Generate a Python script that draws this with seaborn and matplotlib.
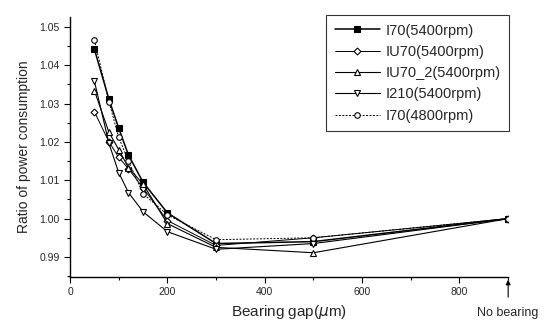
import numpy as np
import pandas as pd
import matplotlib
matplotlib.use("Agg")
import matplotlib.pyplot as plt
from matplotlib.ticker import MultipleLocator
import seaborn as sns

# bearing gap (um); 900 stands for "no bearing"
gap = [50, 80, 100, 120, 150, 200, 300, 500, 900]

i70_5400 = [1.0442, 1.0311, 1.0236, 1.0166, 1.0095, 1.0015, 0.9935, 0.9940, 1.0000]
iu70_5400 = [1.0279, 1.0200, 1.0160, 1.0130, 1.0080, 0.9995, 0.9930, 0.9950, 1.0000]
iu70_2_5400 = [1.0334, 1.0225, 1.0180, 1.0133, 1.0090, 0.9987, 0.9925, 0.9911, 1.0000]
i210_5400 = [1.0359, 1.0196, 1.0120, 1.0068, 1.0018, 0.9966, 0.9920, 0.9935, 1.0000]
i70_4800 = [1.0466, 1.0305, 1.0212, 1.0150, 1.0065, 1.0010, 0.9945, 0.9950, 1.0000]

series = [
    ("I70(5400rpm)", i70_5400, "s", "black", "-", 1.1),
    ("IU70(5400rpm)", iu70_5400, "D", "white", "-", 0.7),
    ("IU70_2(5400rpm)", iu70_2_5400, "^", "white", "-", 0.8),
    ("I210(5400rpm)", i210_5400, "v", "white", "-", 0.8),
    ("I70(4800rpm)", i70_4800, "o", "white", (0, (2, 1.5)), 0.7),
]

sns.set_style("ticks")
plt.rcParams["font.family"] = ["Liberation Sans", "DejaVu Sans"]

fig = plt.figure(figsize=(5.47, 3.25), dpi=100)
ax = fig.add_axes([0.128, 0.148, 0.801, 0.800])

for name, vals, mk, fc, ls, lw in series:
    df = pd.DataFrame({"gap": gap, "ratio": vals})
    sns.lineplot(data=df, x="gap", y="ratio", ax=ax, label=name,
                 color="black", linestyle=ls, linewidth=lw,
                 marker=mk, markersize=4 if mk != "D" else 3.5,
                 markerfacecolor=fc, markeredgecolor="black",
                 markeredgewidth=0.8)

ax.set_xlim(0, 900)
ax.set_ylim(0.9848, 1.0526)
ax.set_xticks([0, 200, 400, 600, 800])
ax.xaxis.set_minor_locator(MultipleLocator(100))
ax.set_yticks([0.99, 1.00, 1.01, 1.02, 1.03, 1.04, 1.05])
ax.set_yticklabels(["0.99", "1.00", "1.01", "1.02", "1.03", "1.04", "1.05"])
ax.yaxis.set_minor_locator(MultipleLocator(0.005))
ax.tick_params(axis="both", which="major", labelsize=7.5, length=4,
               width=0.8, color="black", direction="out")
ax.tick_params(axis="both", which="minor", length=2, width=0.8,
               color="black", direction="out")
for s in ["left", "bottom"]:
    ax.spines[s].set_color("black")
    ax.spines[s].set_linewidth(1.0)
sns.despine(ax=ax)

ax.set_xlabel("Bearing gap($\\mu$m)", fontsize=11, labelpad=4)
ax.set_ylabel("Ratio of power consumption", fontsize=10, labelpad=6)

ax.annotate("", xy=(900, 0.9848), xytext=(900, 0.9788),
            annotation_clip=False,
            arrowprops=dict(arrowstyle="-|>", color="black", lw=0.8,
                            mutation_scale=7))
ax.text(900, 0.9770, "No bearing", fontsize=9, ha="center", va="top",
        clip_on=False)

leg = ax.legend(loc="upper right", bbox_to_anchor=(1.003, 1.008),
                borderaxespad=0,
                fontsize=10.5, frameon=True, fancybox=False,
                handlelength=3.1, labelspacing=0.5, borderpad=0.6,
                handletextpad=0.4)
leg.get_frame().set_edgecolor("black")
leg.get_frame().set_linewidth(0.8)

fig.savefig("out.png", dpi=100)
